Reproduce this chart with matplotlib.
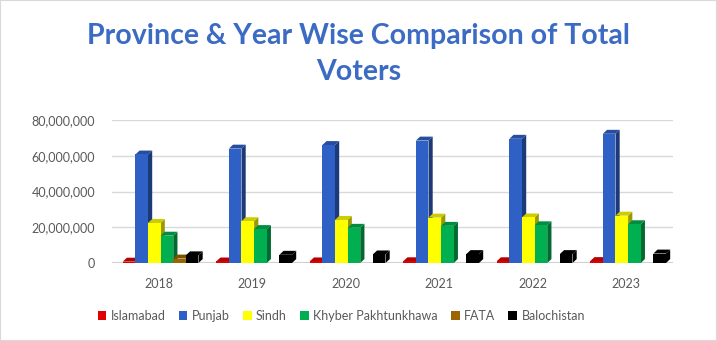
import numpy as np
import matplotlib.pyplot as plt
from matplotlib.patches import Polygon, Rectangle
from matplotlib.colors import to_rgb
from matplotlib.ticker import FuncFormatter

# voters per province
years = ['2018', '2019', '2020', '2021', '2022', '2023']
provinces = ['Islamabad', 'Punjab', 'Sindh', 'Khyber Pakhtunkhawa', 'FATA', 'Balochistan']
islamabad = [760000, 860000, 900000, 980000, 1000000, 1080000]
punjab = [60700000, 64000000, 66000000, 68500000, 69500000, 72300000]
sindh = [22400000, 23400000, 24100000, 25400000, 25500000, 26500000]
kpk = [15300000, 19000000, 19700000, 20800000, 21100000, 21700000]
fata = [2500000, 0, 0, 0, 0, 0]
balochistan = [4300000, 4600000, 4800000, 5000000, 5000000, 5300000]
series = [islamabad, punjab, sindh, kpk, fata, balochistan]
colors = ['#E00000', '#2F60C6', '#FFFF00', '#00B050', '#9C6500', '#000000']

plt.rcParams['font.family'] = ['Lato', 'DejaVu Sans']

fig = plt.figure(figsize=(7.17, 3.41), dpi=100)
ax = fig.add_axes([112/717, 1-263/341, (673-112)/717, (263-120)/341])

w = 0.135
dx = 0.045      # depth of the fake 3d box, x units
dy = 2.2e6      # depth of the fake 3d box, y units


def shade(c, f):
    r, g, b = to_rgb(c)
    return (r*f, g*f, b*f)


x = np.arange(len(years))
z = 3
for i in range(len(years)):
    for j in range(len(provinces)):
        v = series[j][i]
        if v <= 0:
            continue
        x0 = x[i] + (j - 2.5) * w - w/2 + 0.02
        c = colors[j]
        # side face then top then front
        side = [(x0+w, 0), (x0+w+dx, dy), (x0+w+dx, v+dy), (x0+w, v)]
        top = [(x0, v), (x0+dx, v+dy), (x0+w+dx, v+dy), (x0+w, v)]
        ax.add_patch(Polygon(side, closed=True, fc=shade(c, 0.6), ec='none', zorder=z, clip_on=False))
        ax.add_patch(Polygon(top, closed=True, fc=shade(c, 0.8), ec='none', zorder=z, clip_on=False))
        ax.add_patch(Rectangle((x0, 0), w, v, fc=c, ec='none', zorder=z+0.5, clip_on=False))
        z += 1

ax.set_xlim(-0.5, 5.5)
ax.set_ylim(0, 80e6)
ax.set_yticks(np.arange(0, 80e6+1, 20e6))
ax.yaxis.set_major_formatter(FuncFormatter(lambda v, p: '{:,.0f}'.format(v)))
ax.set_xticks(x)
ax.set_xticklabels(years)
ax.tick_params(length=0, labelsize=9, colors='#595959')
ax.tick_params(axis='x', pad=11)
ax.tick_params(axis='y', pad=12)
for s in ax.spines.values():
    s.set_visible(False)
ax.grid(axis='y', color='#D9D9D9', lw=1)
ax.set_axisbelow(True)
ax.axhline(0, color='#D0D0D0', lw=1.5, zorder=1)

# title
fig.text(0.5, 1-54/341, 'Province & Year Wise Comparison of Total\nVoters', ha='center', va='center',
         fontsize=20.5, fontweight='bold', color='#3C6BC4', linespacing=1.45)

# legend
handles = [Rectangle((0, 0), 1, 1, fc=c) for c in colors]
fig.legend(handles, provinces, loc='center', bbox_to_anchor=(0.476, 1-316/341), ncol=6, frameon=False,
           fontsize=9, handlelength=0.7, handleheight=0.7, handletextpad=0.35, columnspacing=1.05,
           labelcolor='#595959')

fig.patches.append(Rectangle((0, 0), 1, 1, transform=fig.transFigure, fill=False, ec='#D9D9D9', lw=1.5))

fig.savefig('out.png', dpi=100)
